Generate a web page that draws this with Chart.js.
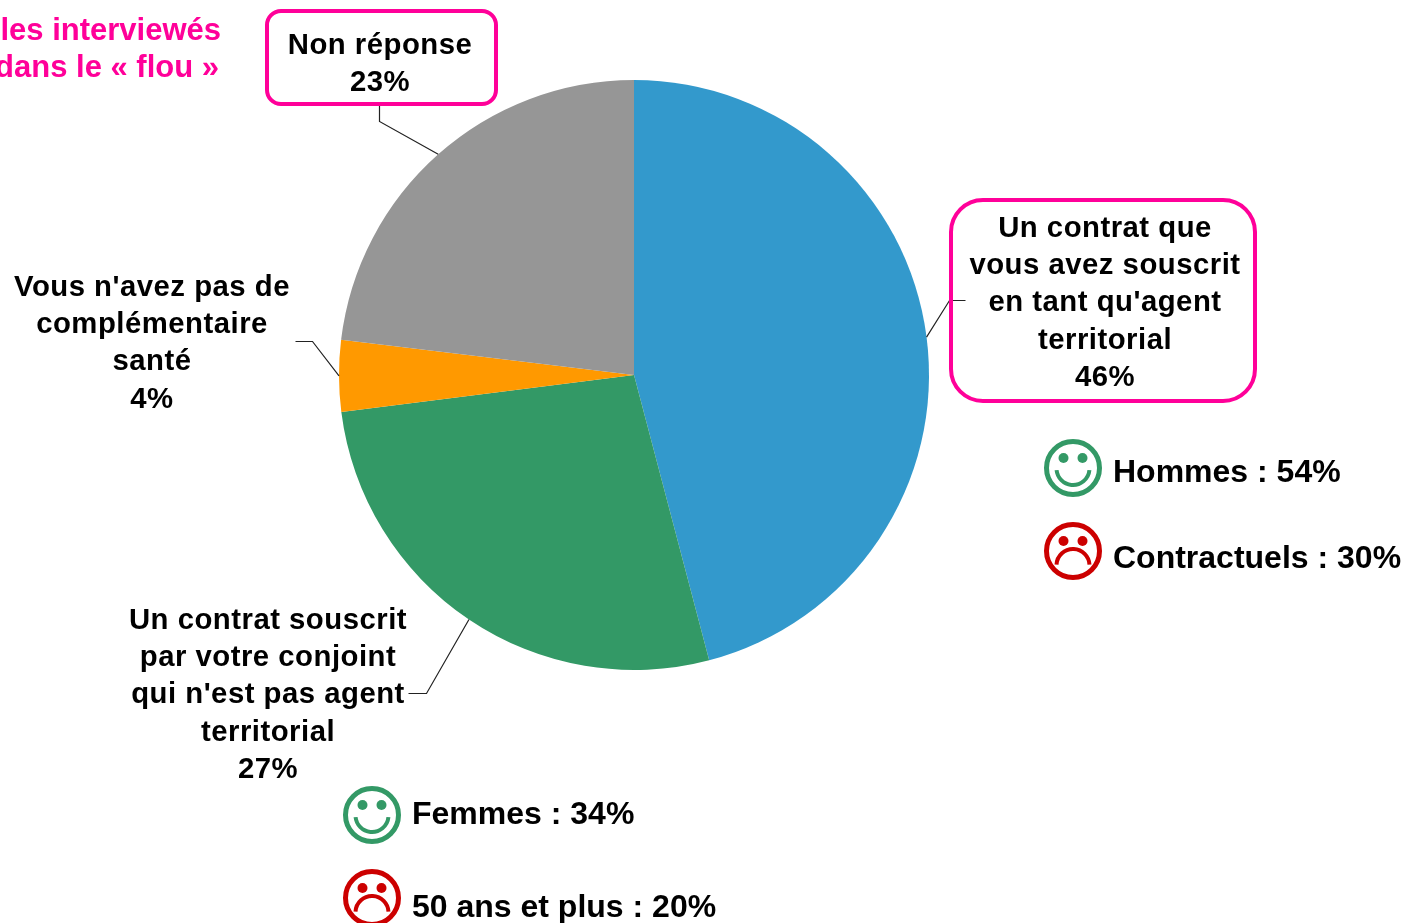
<!DOCTYPE html>
<html>
<head>
<meta charset="utf-8">
<style>
html,body{margin:0;padding:0;background:#fff;overflow:hidden}
#wrap{width:1404px;height:923px;position:relative}
</style>
<script src="https://cdn.jsdelivr.net/npm/chart.js@4"></script>
</head>
<body>
<div id="wrap"><canvas id="pieChart"></canvas></div>
<script>
/* DATA */
const categories=["Un contrat que vous avez souscrit en tant qu'agent territorial","Un contrat souscrit par votre conjoint qui n'est pas agent territorial","Vous n'avez pas de complémentaire santé","Non réponse"];
const values=[45.9,27.1,3.9,23.1];
const colors=["#3399cc","#339966","#ff9900","#969696"];
const labelLines=[
["Un contrat que","vous avez souscrit","en tant qu'agent","territorial","46%"],
["Un contrat souscrit","par votre conjoint","qui n'est pas agent","territorial","27%"],
["Vous n'avez pas de","complémentaire","santé","4%"],
["Non réponse","23%"]
];
const titleLines=["les interviewés","dans le « flou »"];
const notes=["Hommes : 54%","Contractuels : 30%","Femmes : 34%","50 ans et plus : 20%"];

const PINK="#ff0099";
const FONT='bold 29.3px "Liberation Sans"';
const TITLE_FONT='bold 31px "Liberation Sans"';
const NOTE_FONT='bold 32px "Liberation Sans"';

/* LAYOUT */
const labelPos=[{x:1105,y:229},{x:268,y:621},{x:152,y:288},{x:380,y:46}];
const boxes=[{x:951,y:200,w:304,h:201,r:32},null,null,{x:267,y:11,w:229,h:93,r:14}];
const elbows=[
[[965,300],[949,300]],
[[408,693],[426,693]],
[[295,341],[312,341]],
[[379,104],[379,121]]
];
const notePos=[
{x:1073,y:468,textY:473,happy:true},
{x:1073,y:551,textY:559,happy:false},
{x:372,y:815,textY:815,happy:true},
{x:372,y:898,textY:908,happy:false}
];

function face(ctx,p){
let c=p.happy?"#339966":"#cc0000";
ctx.strokeStyle=c;ctx.fillStyle=c;ctx.lineWidth=5;
ctx.beginPath();ctx.arc(p.x,p.y,26.5,0,Math.PI*2);ctx.stroke();
ctx.beginPath();ctx.arc(p.x-9.5,p.y-10,5,0,Math.PI*2);ctx.fill();
ctx.beginPath();ctx.arc(p.x+9.5,p.y-10,5,0,Math.PI*2);ctx.fill();
ctx.lineWidth=4;
ctx.beginPath();
if(p.happy)ctx.arc(p.x,p.y+0.5,16.5,0.1,Math.PI-0.1);
else ctx.arc(p.x,p.y+14.5,16.5,Math.PI+0.05,-0.05);
ctx.stroke();
}

/* annotations drawn on top of the pie */
const annotations={
id:"annotations",
afterDraw(chart){
const ctx=chart.ctx;
const arcs=chart.getDatasetMeta(0).data;
ctx.save();
ctx.textAlign="center";ctx.textBaseline="middle";

arcs.forEach((arc,i)=>{
let a=arc.getProps(["x","y","outerRadius","startAngle","endAngle"],true);
let mid=(a.startAngle+a.endAngle)/2;
ctx.strokeStyle="#222";ctx.lineWidth=1.2;
ctx.beginPath();
ctx.moveTo(elbows[i][0][0]+.5,elbows[i][0][1]+.5);
ctx.lineTo(elbows[i][1][0]+.5,elbows[i][1][1]+.5);
ctx.lineTo(a.x+Math.cos(mid)*a.outerRadius,a.y+Math.sin(mid)*a.outerRadius);
ctx.stroke();

let b=boxes[i];
if(b){
ctx.strokeStyle=PINK;ctx.lineWidth=4;
ctx.beginPath();ctx.roundRect(b.x,b.y,b.w,b.h,b.r);ctx.stroke();
}

ctx.font=FONT;ctx.letterSpacing="0.5px";ctx.fillStyle="#000";
labelLines[i].forEach((t,k)=>ctx.fillText(t,labelPos[i].x,labelPos[i].y+k*37.2));
});

ctx.letterSpacing="0px";
ctx.font=TITLE_FONT;ctx.fillStyle=PINK;ctx.textAlign="right";
ctx.fillText(titleLines[0],221,31);
ctx.fillText(titleLines[1],219,68);

ctx.textAlign="left";
notes.forEach((t,i)=>{
face(ctx,notePos[i]);
ctx.font=NOTE_FONT;ctx.fillStyle="#000";
ctx.fillText(t,notePos[i].x+40,notePos[i].textY);
});
ctx.restore();
}
};

/* CHART */
new Chart(document.getElementById("pieChart"),{
type:"pie",
data:{
labels:categories,
datasets:[{data:values,backgroundColor:colors,borderWidth:0}]
},
options:{
responsive:true,
maintainAspectRatio:false,
animation:false,
layout:{padding:{left:339,right:475,top:80,bottom:253}},
plugins:{legend:{display:false},tooltip:{enabled:false}}
},
plugins:[annotations]
});
</script>
</body>
</html>
